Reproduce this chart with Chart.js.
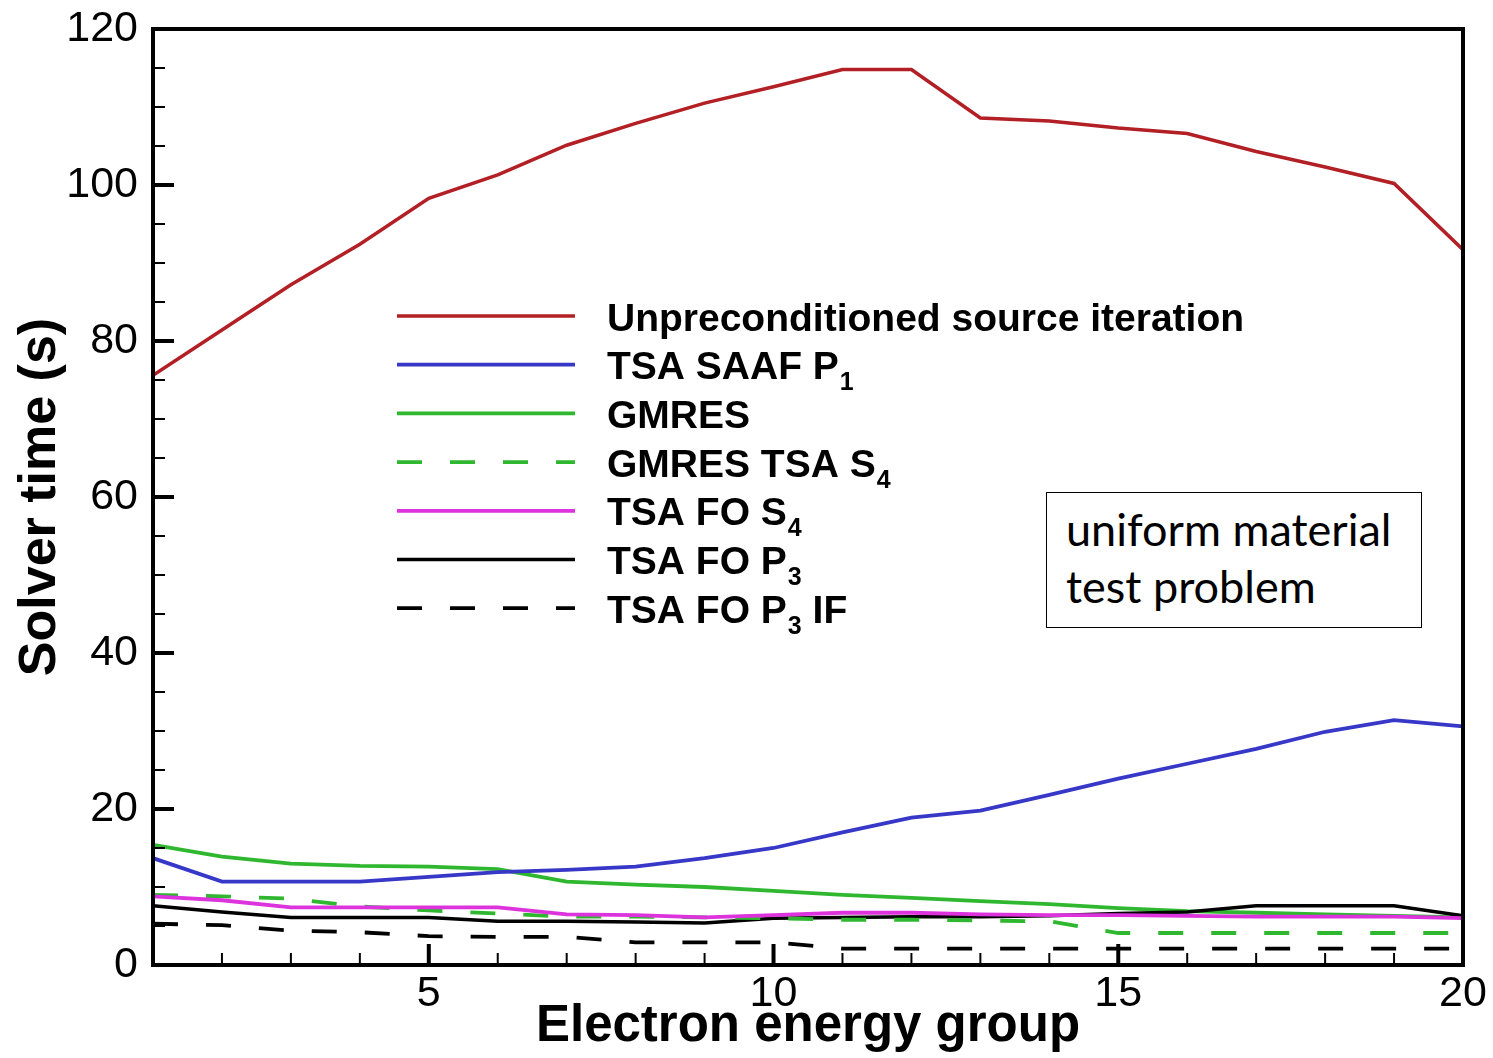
<!DOCTYPE html>
<html>
<head>
<meta charset="utf-8">
<script src="https://cdn.jsdelivr.net/npm/chart.js@4.4.1/dist/chart.umd.min.js"></script>
<style>
html,body{margin:0;padding:0;background:#fff;}
#wrap{position:relative;width:1493px;height:1058px;overflow:hidden;}
#c{position:absolute;left:0;top:0;}
#note{position:absolute;left:1046px;top:492px;width:376px;height:136px;box-sizing:border-box;border:1.5px solid #000;background:#fff;
font-family:Lato,"Open Sans",sans-serif;font-size:45px;line-height:57px;padding:8px 0 0 19px;color:#000;white-space:nowrap;}
</style>
</head>
<body>
<div id="wrap">
<canvas id="c" width="1493" height="1058"></canvas>
<div id="note">uniform material<br>test problem</div>
</div>
<script>
// ---- data ----
const groups = [1,2,3,4,5,6,7,8,9,10,11,12,13,14,15,16,17,18,19,20];
const unprecSI   = [75.6, 81.4, 87.2, 92.4, 98.3, 101.3, 105.1, 107.9, 110.5, 112.6, 114.8, 114.8, 108.6, 108.2, 107.3, 106.6, 104.3, 102.3, 100.2, 91.7];
const tsaSaafP1  = [13.7, 10.7, 10.7, 10.7, 11.3, 11.9, 12.2, 12.6, 13.7, 15.0, 17.0, 18.9, 19.8, 21.8, 23.9, 25.8, 27.7, 29.9, 31.4, 30.6];
const gmres      = [15.4, 13.9, 13.0, 12.7, 12.6, 12.3, 10.7, 10.3, 10.0, 9.5, 9.0, 8.6, 8.2, 7.8, 7.3, 6.9, 6.7, 6.5, 6.3, 6.1];
const gmresTsaS4 = [9.0, 8.8, 8.5, 7.5, 7.0, 6.6, 6.2, 6.2, 6.1, 6.0, 5.8, 5.8, 5.7, 5.6, 4.1, 4.1, 4.1, 4.1, 4.1, 4.1];
const tsaFoS4    = [8.8, 8.3, 7.4, 7.4, 7.4, 7.4, 6.5, 6.4, 6.1, 6.4, 6.7, 6.7, 6.5, 6.4, 6.4, 6.3, 6.2, 6.2, 6.2, 6.0];
const tsaFoP3    = [7.6, 6.8, 6.1, 6.1, 6.1, 5.6, 5.6, 5.5, 5.4, 6.0, 6.1, 6.2, 6.2, 6.3, 6.6, 6.8, 7.6, 7.6, 7.6, 6.3];
const tsaFoP3IF  = [5.3, 5.1, 4.4, 4.2, 3.7, 3.6, 3.6, 2.9, 2.9, 2.9, 2.1, 2.1, 2.1, 2.1, 2.1, 2.1, 2.1, 2.1, 2.1, 2.1];

// legend labels; "_x" marks a subscript
const seriesLabels = [
  'Unpreconditioned source iteration',
  'TSA SAAF P_1',
  'GMRES',
  'GMRES TSA S_4',
  'TSA FO S_4',
  'TSA FO P_3',
  'TSA FO P_3 IF'
];
const xTickLabels = [5, 10, 15, 20];
const yTickLabels = [0, 20, 40, 60, 80, 100, 120];
const xMinorTicks = groups;
const yMinorTicks = [0,5,10,15,20,25,30,35,40,45,50,55,60,65,70,75,80,85,90,95,100,105,110,115,120];

const seriesValues = [unprecSI, tsaSaafP1, gmres, gmresTsaS4, tsaFoS4, tsaFoP3, tsaFoP3IF];
const styles = [
  {c:'#b21f24', w:3.5, d:[]},
  {c:'#3838c8', w:3.8, d:[]},
  {c:'#2fb82f', w:3.8, d:[]},
  {c:'#2fb82f', w:3.8, d:[25,28]},
  {c:'#dd33dd', w:3.8, d:[]},
  {c:'#000000', w:3.5, d:[]},
  {c:'#000000', w:3.8, d:[25,28]}
];
const drawOrder = [0, 1, 6, 3, 2, 4, 5];

const datasets = seriesValues.map((vals, i) => ({
  label: seriesLabels[i].replace(/_/g, ''),
  legendText: seriesLabels[i],
  data: groups.map((g, k) => ({x: g, y: vals[k]})),
  borderColor: styles[i].c,
  backgroundColor: styles[i].c,
  borderWidth: styles[i].w,
  borderDash: styles[i].d,
  pointRadius: 0,
  tension: 0,
  fill: false,
  order: drawOrder[i]
}));

const FONT = '"Liberation Sans", Arial, Helvetica, sans-serif';

const frameTicks = {
  id: 'frameTicks',
  afterDatasetsDraw(chart) {
    const {ctx, chartArea: a, scales: {x, y}} = chart;
    ctx.save();
    ctx.strokeStyle = '#000';
    ctx.lineCap = 'butt';
    xMinorTicks.forEach(v => {
      const px = x.getPixelForValue(v);
      const major = v % 5 === 0;
      ctx.lineWidth = major ? 4 : 2;
      ctx.beginPath();
      ctx.moveTo(px, a.bottom);
      ctx.lineTo(px, a.bottom - (major ? 21 : 12));
      ctx.stroke();
    });
    yMinorTicks.forEach(v => {
      const py = y.getPixelForValue(v);
      const major = v % 20 === 0;
      ctx.lineWidth = major ? 4 : 2;
      ctx.beginPath();
      ctx.moveTo(a.left, py);
      ctx.lineTo(a.left + (major ? 21 : 12), py);
      ctx.stroke();
    });
    ctx.lineWidth = 4;
    ctx.strokeRect(a.left, a.top, a.right - a.left, a.bottom - a.top);
    ctx.restore();
  }
};

const customLegend = {
  id: 'customLegend',
  afterDraw(chart) {
    const ctx = chart.ctx;
    const x0 = 397, x1 = 575, tx = 607, y0 = 316, dy = 48.7;
    chart.data.datasets.forEach((ds, i) => {
      const y = y0 + i * dy;
      ctx.save();
      ctx.strokeStyle = ds.borderColor;
      ctx.lineWidth = ds.borderWidth;
      ctx.setLineDash(ds.borderDash || []);
      ctx.beginPath();
      ctx.moveTo(x0, y);
      ctx.lineTo(x1, y);
      ctx.stroke();
      ctx.setLineDash([]);
      ctx.fillStyle = '#000';
      ctx.textBaseline = 'alphabetic';
      const parts = ds.legendText.split(/(_\w)/);
      let x = tx;
      const base = y + 14.5;
      parts.forEach(p => {
        if (!p) return;
        if (p[0] === '_') {
          ctx.font = 'bold 25px ' + FONT;
          ctx.fillText(p.slice(1), x + 1, base + 11);
          x += ctx.measureText(p.slice(1)).width + 1;
        } else {
          ctx.font = 'bold 39px ' + FONT;
          ctx.fillText(p, x, base);
          x += ctx.measureText(p).width;
        }
      });
      ctx.restore();
    });
  }
};

new Chart(document.getElementById('c'), {
  type: 'line',
  data: {datasets},
  options: {
    responsive: false,
    animation: false,
    layout: {padding: {left: 0, right: 30, top: 29, bottom: 0}},
    plugins: {legend: {display: false}, tooltip: {enabled: false}},
    scales: {
      x: {
        type: 'linear', min: 1, max: 20,
        grid: {display: false, drawTicks: false},
        border: {display: false},
        afterBuildTicks: s => { s.ticks = xTickLabels.map(v => ({value: v})); },
        afterFit: s => { s.height = 93; s.paddingLeft = 0; s.paddingRight = 0; },
        ticks: {color: '#000', padding: 3, font: {family: FONT, size: 43}, maxRotation: 0, autoSkip: false},
        title: {display: true, text: 'Electron energy group', color: '#000',
                font: {family: FONT, size: 51, weight: 'bold'}, padding: {top: 0, bottom: 0}}
      },
      y: {
        type: 'linear', min: 0, max: 120,
        grid: {display: false, drawTicks: false},
        border: {display: false},
        afterBuildTicks: s => { s.ticks = yTickLabels.map(v => ({value: v})); },
        afterFit: s => { s.width = 153; s.paddingTop = 0; s.paddingBottom = 0; },
        ticks: {color: '#000', padding: 15, font: {family: FONT, size: 43}, autoSkip: false},
        title: {display: true, text: 'Solver time (s)', color: '#000',
                font: {family: FONT, size: 52, weight: 'bold'}, padding: {top: 9, bottom: 0}}
      }
    }
  },
  plugins: [frameTicks, customLegend]
});
</script>
</body>
</html>
